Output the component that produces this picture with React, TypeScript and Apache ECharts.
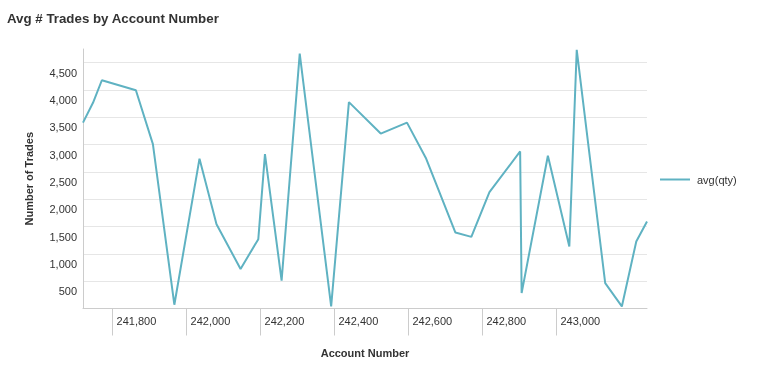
import React, { useEffect, useRef } from 'react';
import * as echarts from 'echarts';

const accountNumbers = [
  241720, 241747, 241771, 241863, 241909, 241967, 242035, 242081, 242146, 242194,
  242212, 242257, 242306, 242391, 242439, 242525, 242596, 242647, 242727, 242770,
  242819, 242902, 242906, 242977, 243035, 243055, 243132, 243177, 243216, 243245,
];
const avgQty = [
  3402, 3765, 4178, 3996, 3009, 69, 2742, 1542, 724, 1269,
  2827, 511, 4664, 38, 3778, 3202, 3402, 2755, 1391, 1311,
  2129, 2875, 282, 2796, 1136, 4736, 464, 38, 1227, 1591,
];
const xTicks = [241800, 242000, 242200, 242400, 242600, 242800, 243000];
const seriesName = 'avg(qty)';

const FONT = "'Liberation Sans', Arial, Helvetica, sans-serif";
const fmt = (v: number) => Number(v).toLocaleString('en-US');

export default function App() {
  const ref = useRef<HTMLDivElement>(null);
  useEffect(() => {
    if (!ref.current) return;
    const chart = echarts.init(ref.current, null, { renderer: 'svg' });
    chart.setOption({
      animation: false,
      textStyle: { fontFamily: FONT },
      title: {
        text: 'Avg # Trades by Account Number',
        left: 7,
        top: 12,
        padding: 0,
        textStyle: { fontFamily: FONT, fontSize: 13.3, fontWeight: 'bold', color: '#333' },
      },
      legend: {
        left: 660,
        top: 174,
        padding: 0,
        icon: 'rect',
        itemWidth: 30,
        itemHeight: 2,
        itemGap: 10,
        textStyle: { fontFamily: FONT, fontSize: 11, color: '#333', padding: [0, 0, 0, 2] },
        data: [seriesName],
      },
      grid: { left: 83, right: 120, top: 49, bottom: 68.5, containLabel: false },
      xAxis: {
        type: 'value',
        min: 'dataMin',
        max: 'dataMax',
        name: 'Account Number',
        nameLocation: 'middle',
        nameGap: 39,
        nameTextStyle: { fontFamily: FONT, fontSize: 11, fontWeight: 'bold', color: '#333' },
        axisLine: { show: true, lineStyle: { color: '#ccc', width: 1 } },
        axisTick: { show: true, customValues: xTicks, length: 27, lineStyle: { color: '#ccc' } },
        axisLabel: {
          customValues: xTicks,
          align: 'left',
          padding: [0, 0, 0, 4],
          margin: 7,
          fontFamily: FONT,
          fontSize: 11,
          color: '#333',
          formatter: (v: number) => fmt(v),
        },
        splitLine: { show: false },
      },
      yAxis: {
        type: 'value',
        min: 0,
        max: 4750,
        interval: 500,
        name: 'Number of Trades',
        nameLocation: 'middle',
        nameGap: 49,
        nameTextStyle: { fontFamily: FONT, fontSize: 11, fontWeight: 'bold', color: '#333' },
        axisLine: { show: true, lineStyle: { color: '#ccc', width: 1 } },
        axisTick: { show: false },
        axisLabel: {
          showMinLabel: false,
          showMaxLabel: false,
          margin: 6,
          verticalAlign: 'top',
          lineHeight: 20,
          fontFamily: FONT,
          fontSize: 11,
          color: '#333',
          formatter: (v: number) => (v === 0 || v % 500 !== 0 ? '' : fmt(v)),
        },
        splitLine: { show: true, showMinLine: false, showMaxLine: false, lineStyle: { color: '#e6e6e6', width: 1 } },
      },
      series: [
        {
          name: seriesName,
          type: 'line',
          data: accountNumbers.map((a, i) => [a, avgQty[i]]),
          symbol: 'none',
          lineStyle: { color: '#5fb2c2', width: 2 },
          itemStyle: { color: '#5fb2c2' },
        },
      ],
    });
    return () => chart.dispose();
  }, []);
  return <div ref={ref} style={{ position: 'fixed', left: 0, top: 0, width: 767, height: 377 }} />;
}
